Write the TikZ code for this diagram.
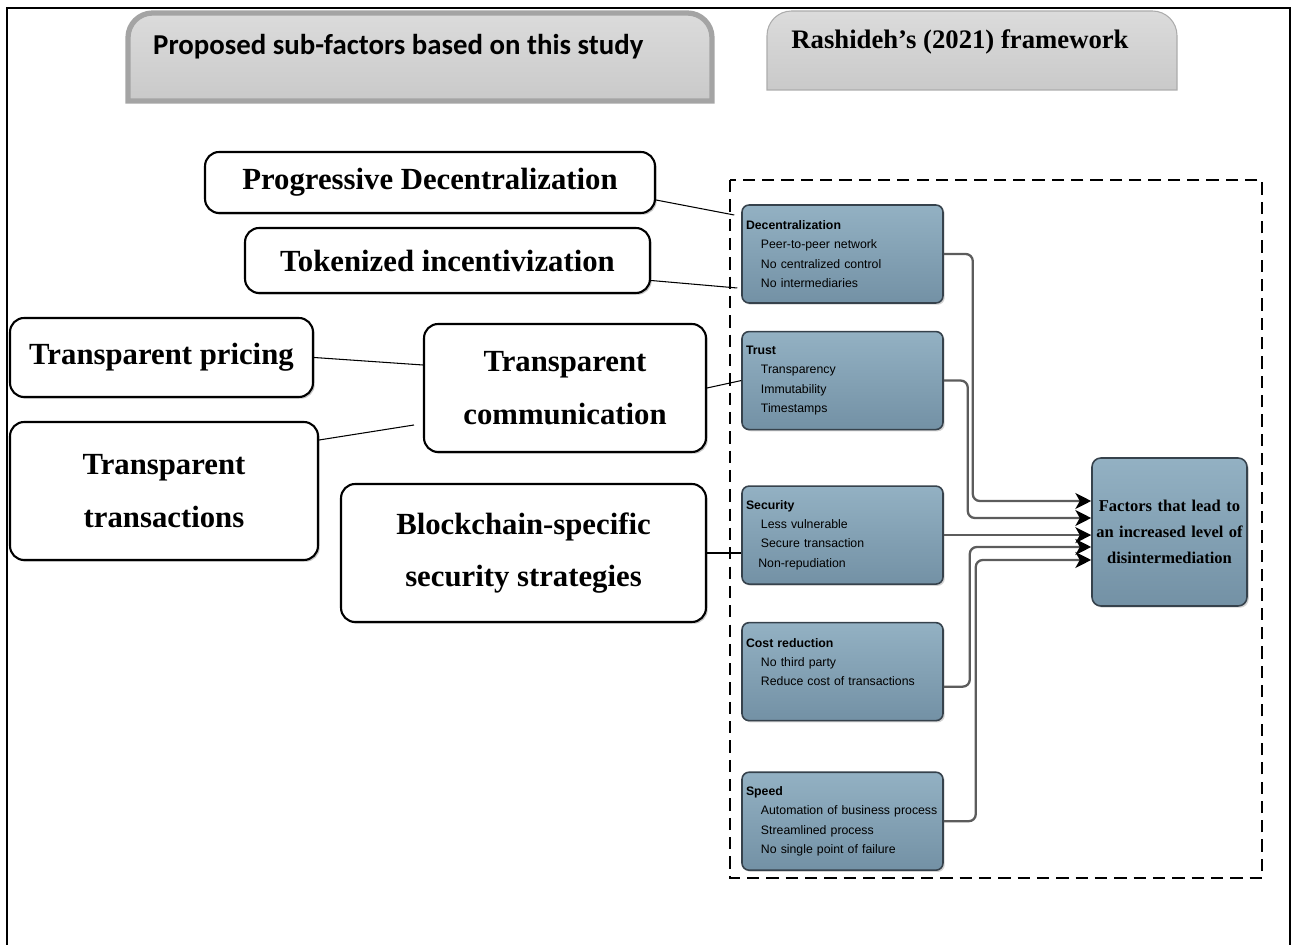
\documentclass[tikz,border=0pt]{standalone}
\usepackage{fontspec}
\setmainfont{Liberation Serif}
\setsansfont{Liberation Sans}
\newfontfamily\headfont{Carlito}
\usepackage{tikz}
\usetikzlibrary{arrows.meta, positioning, shadows}
\usepackage{xcolor}
\definecolor{rsblue}{HTML}{93B1C3}
\definecolor{rsbluedark}{HTML}{7391A5}
\definecolor{rsedge}{HTML}{36424C}
\definecolor{rsgray}{HTML}{A4A4A4}
\definecolor{rslink}{HTML}{5C5C5C}

\begin{document}
\begin{tikzpicture}[x=0.02cm, y=-0.02cm,
    subbox/.style={rectangle, rounded corners=8pt, draw=black, fill=white,
                   line width=1.2pt, align=center,
                   font=\bfseries\fontsize{17.5}{30}\selectfont,
                   drop shadow={shadow xshift=1pt, shadow yshift=-1pt, opacity=0.45}},
    factorbox/.style={rectangle, rounded corners=4pt, draw=rsedge, line width=0.9pt,
                      top color=rsblue, bottom color=rsbluedark,
                      text width=3.86cm, minimum height=1.96cm, inner xsep=0.08cm,
                      align=left, font=\sffamily\fontsize{7}{11}\selectfont,
                      drop shadow={shadow xshift=1pt, shadow yshift=-1pt, opacity=0.35}},
    headbox/.style={top color=gray!28, bottom color=gray!42},
    tie/.style={line width=0.6pt, black},
    link/.style={line width=1.3pt, rslink, rounded corners=4pt},
    arrow/.style={link, -{Stealth[length=9pt, width=9pt, inset=2.5pt, color=black]}}
  ]
    \useasboundingbox (0,0) rectangle (1296,945);
    \draw[line width=1.2pt] (7,945) -- (7,8) -- (1290,8) -- (1290,945);

    \draw[headbox, draw=rsgray, line width=3pt] (128,101) [rounded corners=14pt] -- (128,13) -- (712,13) [sharp corners] -- (712,101) -- cycle;
    \draw[headbox, draw=gray!65, line width=0.6pt] (767,90) [rounded corners=14pt] -- (767,11) -- (1177,11) [sharp corners] -- (1177,90) -- cycle;
    \node[anchor=west, font=\headfont\bfseries\fontsize{16.4}{20}\selectfont] (study) at (147,47) {Proposed sub-factors based on this study};
    \node[font=\bfseries\fontsize{15.2}{18}\selectfont] (rashideh) at (960,42) {Rashideh’s (2021) framework};

    \draw[line width=1.1pt, dash pattern=on 7pt off 4pt] (730,180) rectangle (1262,878);

    \node[subbox, minimum width=9cm, minimum height=1.22cm] (prog) at (430,182.5) {Progressive Decentralization};
    \node[subbox, minimum width=8.1cm, minimum height=1.3cm] (token) at (447.5,260.5) {Tokenized incentivization};
    \node[subbox, minimum width=6.06cm, minimum height=1.58cm] (pricing) at (161.5,357.5) {Transparent pricing};
    \node[subbox, minimum width=5.64cm, minimum height=2.56cm] (comm) at (565,388) {Transparent\\communication};
    \node[subbox, minimum width=6.16cm, minimum height=2.76cm] (trans) at (164,491) {Transparent\\transactions};
    \node[subbox, minimum width=7.3cm, minimum height=2.76cm] (block) at (523.5,553) {Blockchain-specific\\security strategies};

    \node[factorbox] (dec) at (842.5,254) {\textbf{Decentralization}\\\hspace*{8.5pt}Peer-to-peer network\\\hspace*{8.5pt}No centralized control\\\hspace*{8.5pt}No intermediaries};
    \node[factorbox, below=0.54cm of dec] (trust) {\textbf{Trust}\\\hspace*{8.5pt}Transparency\\\hspace*{8.5pt}Immutability\\\hspace*{8.5pt}Timestamps};
    \node[factorbox, below=1.1cm of trust] (sec) {\textbf{Security}\\\hspace*{8.5pt}Less vulnerable\\\hspace*{8.5pt}Secure transaction\\\hspace*{7pt}Non-repudiation};
    \node[factorbox, below=0.74cm of sec] (cost) {\textbf{Cost reduction}\\\hspace*{8.5pt}No third party\\\hspace*{8.5pt}Reduce cost of transactions\\\mbox{}};
    \node[factorbox, below=1.0cm of cost] (speed) {\textbf{Speed}\\\hspace*{8.5pt}Automation of business process\\\hspace*{8.5pt}Streamlined process\\\hspace*{8.5pt}No single point of failure};
    \node[factorbox, text width=2.96cm, inner xsep=0.07cm, minimum height=2.96cm, rounded corners=5pt,
          align=center, font=\bfseries\fontsize{9.4}{14.7}\selectfont] (fac) at (1169.5,532) {Factors that lead to\\an increased level of\\disintermediation};

    \draw[tie] ([yshift=-0.35cm]prog.east) -- ([xshift=-0.14cm, yshift=0.78cm]dec.west);
    \draw[tie] ([yshift=-0.4cm]token.east) -- ([xshift=-0.08cm, yshift=-0.68cm]dec.west);
    \draw[tie] (pricing.east) -- ([yshift=0.46cm]comm.west);
    \draw[tie] ([yshift=1.02cm]trans.east) -- ([xshift=-0.18cm, yshift=-0.74cm]comm.west);
    \draw[tie] (comm.east) -- (trust.west);
    \draw[tie] (block.east) -- (block.east -| sec.west);

    \draw[arrow] (dec.east) -- ++(29,0) |- ([yshift=0.62cm]fac.west);
    \draw[arrow] (trust.east) -- ++(24,0) |- ([yshift=0.28cm]fac.west);
    \draw[arrow] (sec.east) -- (sec.east -| fac.west);
    \draw[arrow] ([yshift=-0.3cm]cost.east) -- ++(26,0) |- ([yshift=-0.3cm]fac.west);
    \draw[arrow] (speed.east) -- ++(32,0) |- ([yshift=-0.56cm]fac.west);
  \end{tikzpicture}
\end{document}
